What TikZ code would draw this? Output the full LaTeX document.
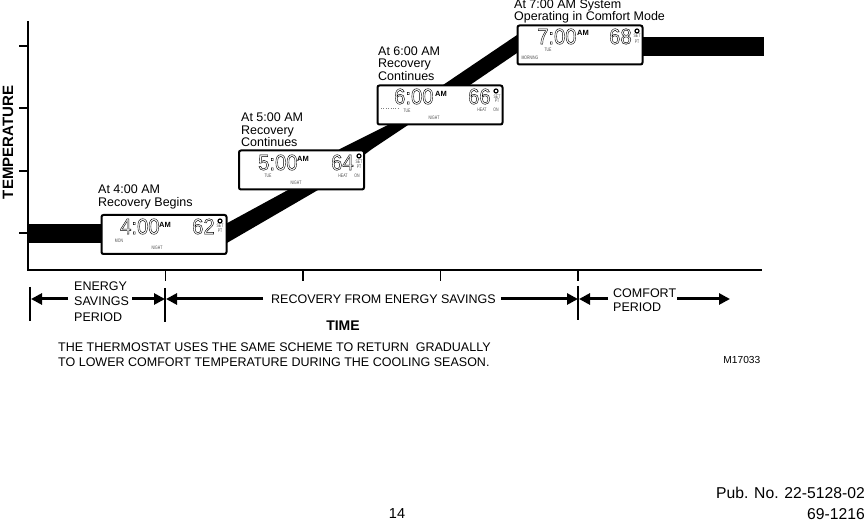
\documentclass[tikz,border=0pt]{standalone}
\usepackage{fontspec}
\setmainfont{Liberation Sans}
\usetikzlibrary{arrows.meta,positioning}
\newcommand{\lcdtext}[1]{\special{pdf:code 1 Tr 0.45 w}#1\special{pdf:code 0 Tr}}
\tikzstyle{arrow} = [line width=3pt,-{Triangle[length=11pt,width=11pt]}]
\tikzstyle{display} = [rectangle, rounded corners=2pt, minimum width=125pt, minimum height=39pt, draw=black, fill=white, line width=2pt, inner sep=0pt]
\tikzstyle{note} = [anchor=west, align=left, inner sep=0pt, font=\fontsize{12.5}{12.6}\selectfont]
\tikzstyle{period} = [anchor=west, align=left, inner sep=0pt, font=\fontsize{12.5}{15.4}\selectfont]
\tikzstyle{digits} = [anchor=west, inner sep=0pt, xscale=0.92, font=\fontsize{22}{22}\selectfont]
\tikzstyle{ampm} = [anchor=west, inner sep=0pt, font=\bfseries\fontsize{7.5}{8}\selectfont]
\tikzstyle{tiny} = [inner sep=0pt, xscale=0.7, font=\fontsize{5}{5}\selectfont, text=black!70]
\tikzstyle{degree} = [circle, draw=black, line width=1.2pt, minimum size=4pt, inner sep=0pt]
\begin{document}
\begin{tikzpicture}[x=1pt,y=-1pt]
    \useasboundingbox (0,0) rectangle (865,521);

    % Temperature band
    \fill[black] (28,224) rectangle (110,243);
    \fill[black] (220,227) -- (288,190) -- (340,149) -- (390,124) -- (443,85) -- (517,35)
        -- (517,53) -- (470,85) -- (408,125) -- (372,149) -- (318,190) -- (220,247) -- cycle;
    \fill[black] (635,37) rectangle (764,56);

    % Axes and ticks
    \draw[line width=2pt] (28,21) -- (28,270) -- (762,270);
    \draw[line width=2pt] (19,46) -- (28,46);
    \draw[line width=1.3pt] (19,108) -- (28,108);
    \draw[line width=1.3pt] (19,171) -- (28,171);
    \draw[line width=1.3pt] (19,233) -- (28,233);
    \draw[line width=1pt] (165,270) -- (165,281);
    \draw[line width=1.5pt] (303,270) -- (303,281);
    \draw[line width=1pt] (440,270) -- (440,281);
    \draw[line width=1.5pt] (578,270) -- (578,281);
    \node[rotate=90, inner sep=0pt, font=\bfseries\fontsize{15}{15}\selectfont] (templabel) at (8,142.5) {TEMPERATURE};

    % Display at 4:00
    \node[display] (four) at (164,234.5) {};
    \node[digits] (fourtime) at (120,226.5) {\lcdtext{4:00}};
    \node[ampm] (fouram) at (159,225) {AM};
    \node[digits] (fourtemp) at (192,226.5) {\lcdtext{62}};
    \node[degree] (fourdeg) at (220,221) {};
    \node[tiny] (fourset) at (220,226) {SET};
    \node[tiny] (fourpt) at (220,231) {PT};
    \node[tiny] (fourday) at (119,241) {MON};
    \node[tiny] (fournight) at (157,248) {NIGHT};
    \node[note] (fournote) at (98,197) {At 4:00 AM\\Recovery Begins};

    % Display at 5:00
    \node[display] (five) at (301.5,170) {};
    \node[digits] (fivetime) at (258,162.5) {\lcdtext{5:00}};
    \node[ampm] (fiveam) at (297,159) {AM};
    \node[digits] (fivetemp) at (331,162.5) {\lcdtext{64}};
    \node[degree] (fivedeg) at (359,156) {};
    \node[tiny] (fiveset) at (359,162) {SET};
    \node[tiny] (fivept) at (359,167) {PT};
    \node[tiny] (fiveday) at (268,176) {TUE};
    \node[tiny] (fiveheat) at (343,176) {HEAT};
    \node[tiny] (fiveon) at (357,176) {ON};
    \node[tiny] (fivenight) at (296,183) {NIGHT};
    \node[note] (fivenote) at (241,130) {At 5:00 AM\\Recovery\\Continues};

    % Display at 6:00
    \node[display] (six) at (440,105) {};
    \node[digits] (sixtime) at (394,96.5) {\lcdtext{6:00}};
    \node[ampm] (sixam) at (435,94) {AM};
    \node[digits] (sixtemp) at (468,96.5) {\lcdtext{66}};
    \node[degree] (sixdeg) at (496,91) {};
    \node[tiny] (sixset) at (497,97) {SET};
    \node[tiny] (sixpt) at (497,101) {PT};
    \node[tiny] (sixday) at (407,111) {TUE};
    \node[tiny] (sixheat) at (482,110) {HEAT};
    \node[tiny] (sixon) at (496,110) {ON};
    \node[tiny] (sixnight) at (434,118) {NIGHT};
    \draw[dotted, line width=0.4pt, black!50] (381,108) -- (398,108);
    \node[note] (sixnote) at (378,63.5) {At 6:00 AM\\Recovery\\Continues};

    % Display at 7:00
    \node[display] (seven) at (580,45) {};
    \node[digits] (seventime) at (537,36.5) {\lcdtext{7:00}};
    \node[ampm] (sevenam) at (577,33) {AM};
    \node[digits] (seventemp) at (609,36.5) {\lcdtext{68}};
    \node[degree] (sevendeg) at (637,31) {};
    \node[tiny] (sevenset) at (637,36) {SET};
    \node[tiny] (sevenpt) at (637,42) {PT};
    \node[tiny] (sevenday) at (548,50) {TUE};
    \node[tiny] (sevenmorn) at (530,58) {MORNING};
    \node[note] (sevennote) at (514,11.5) {At 7:00 AM System\\Operating in Comfort Mode};

    % Period bars
    \draw[line width=1.5pt] (30,287) -- (30,321);
    \draw[line width=1.5pt] (165,288) -- (165,322);
    \draw[line width=1.5pt] (578,286) -- (578,320);
    \coordinate (barone) at (31,299);
    \coordinate (bartwoleft) at (165,299);
    \coordinate (bartworight) at (166,299);
    \coordinate (barthreeleft) at (578,299);
    \coordinate (barthreeright) at (579,299);
    \coordinate (comfortend) at (730,299);

    % Period labels
    \node[period] (energy) at (74,301.5) {ENERGY\\SAVINGS\\PERIOD};
    \node[period] (recovery) at (271,299.5) {RECOVERY FROM ENERGY SAVINGS};
    \node[period, font=\fontsize{12.5}{14}\selectfont] (comfort) at (613,300) {COMFORT\\PERIOD};

    % Connections
    \draw[arrow] (energy.west) ++(-6,-2.5) -- (barone);
    \draw[arrow] (energy.east) ++(3,-2.5) -- (bartwoleft);
    \draw[arrow] (recovery.west) ++(-8,-0.5) -- (bartworight);
    \draw[arrow] (recovery.east) ++(5,-0.5) -- (barthreeleft);
    \draw[arrow] (comfort.west) ++(-5,-1) -- (barthreeright);
    \draw[arrow] (comfort.east) ++(1,-1) -- (comfortend);

    % Captions
    \node[inner sep=0pt, font=\bfseries\fontsize{14}{14}\selectfont] (timelabel) at (343,326) {TIME};
    \node[note, font=\fontsize{12.5}{15}\selectfont] (caption) at (58,355) {THE THERMOSTAT USES THE SAME SCHEME TO RETURN \ GRADUALLY\\TO LOWER COMFORT TEMPERATURE DURING THE COOLING SEASON.};
    \node[anchor=east, inner sep=0pt, font=\fontsize{10.2}{10}\selectfont] (figcode) at (760.5,360) {M17033};
    \node[anchor=east, inner sep=0pt, font=\fontsize{15.7}{16}\selectfont] (pubno) at (865,493) {Pub. No. 22-5128-02};
    \node[anchor=east, inner sep=0pt, font=\fontsize{15.7}{16}\selectfont] (datecode) at (865,514) {69-1216};
    \node[inner sep=0pt, font=\fontsize{14.5}{15}\selectfont] (pagenum) at (397,514) {14};
\end{tikzpicture}
\end{document}
